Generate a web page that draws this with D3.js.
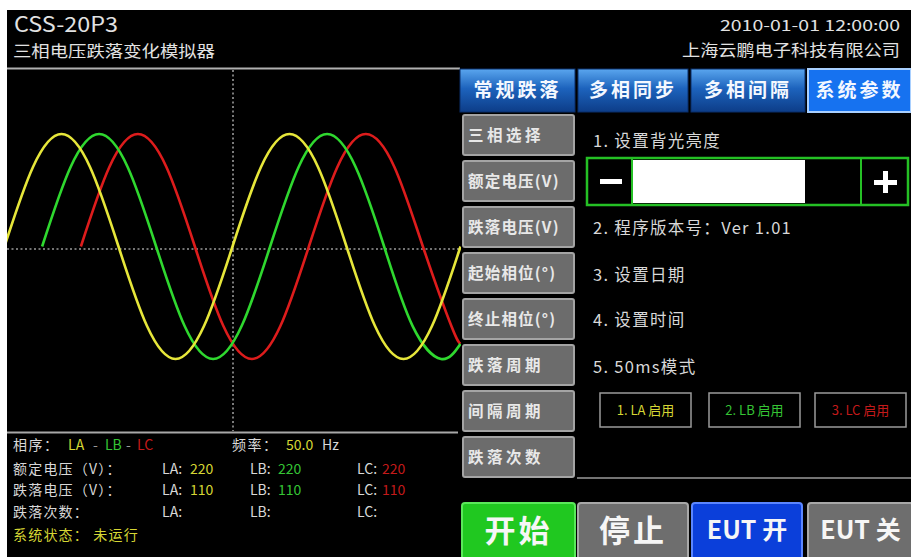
<!DOCTYPE html>
<html><head><meta charset="utf-8">
<script src="https://cdn.jsdelivr.net/npm/d3@7"></script>
<style>
html,body{margin:0;padding:0;background:#fff;}
svg{display:block;}
text{font-family:"Noto Sans CJK SC","Noto Sans",sans-serif;}
</style></head>
<body>
<svg id="c" width="911" height="557"></svg>
<script>
// ---------- data ----------
// waveform samples: time (ms) and voltage (V)
const tLA = [0,2.5,5,7.5,10,12.5,15,17.5,20,22.5,25,27.5,30,32.5,35,37.5,40];
const vLA = [0,220,311,220,0,-220,-311,-220,0,220,311,220,0,-220,-311,-220,0];
const tLB = [3.3,5.8,8.3,10.8,13.3,15.8,18.3,20.8,23.3,25.8,28.3,30.8,33.3,35.8,38.3,40];
const vLB = [0,220,311,220,0,-220,-311,-220,0,220,311,220,0,-220,-311,-269];
const tLC = [6.7,9.2,11.7,14.2,16.7,19.2,21.7,24.2,26.7,29.2,31.7,34.2,36.7,39.2,40];
const vLC = [0,220,311,220,0,-220,-311,-220,0,220,311,220,0,-220,-269];

const title = "CSS-20P3";
const subtitle = "三相电压跌落变化模拟器";
const dateText = "2010-01-01 12:00:00";
const company = "上海云鹏电子科技有限公司";
const tabs = ["常规跌落","多相同步","多相间隔","系统参数"];
const sideButtons = ["三相选择","额定电压(V)","跌落电压(V)","起始相位(°)","终止相位(°)","跌落周期","间隔周期","跌落次数"];
const settings = ["1. 设置背光亮度","2. 程序版本号：Ver 1.01","3. 设置日期","4. 设置时间","5. 50ms模式"];
const enables = ["1. LA 启用","2. LB 启用","3. LC 启用"];
const bottomButtons = ["开始","停止","EUT 开","EUT 关"];
const phases = ["LA","LB","LC"];
const ratedV = [220,220,220];
const dropV = [110,110,110];
const freq = "50.0";
const rowLabels = ["额定电压（V）：","跌落电压（V）：","跌落次数："];
const statusText = "系统状态： 未运行";

// ---------- styles ----------
const phaseColor = ["#e6e63a","#2fd82f","#dd1c1c"];
const textPhase = ["#d6d634","#35c435","#c41a1a"];
const txt = "#d8d8d8";

const svg = d3.select("#c");
svg.append("rect").attr("x",7).attr("y",10).attr("width",904).attr("height",547).attr("fill","#000");

// header
svg.append("text").attr("x",14).attr("y",32).attr("font-size",21).attr("fill","#e2e2e2")
  .attr("textLength",104).attr("lengthAdjust","spacingAndGlyphs").attr("font-family","'Open Sans',sans-serif").text(title);
svg.append("text").attr("x",13).attr("y",57).attr("font-size",16).attr("fill","#e2e2e2")
  .attr("textLength",202).attr("lengthAdjust","spacingAndGlyphs").text(subtitle);
svg.append("text").attr("x",900).attr("y",31).attr("font-size",15).attr("fill","#e2e2e2").attr("text-anchor","end")
  .attr("textLength",180).attr("lengthAdjust","spacingAndGlyphs").attr("font-family","'Liberation Sans',sans-serif").text(dateText);
svg.append("text").attr("x",900).attr("y",56).attr("font-size",16).attr("fill","#e2e2e2").attr("text-anchor","end")
  .attr("textLength",218).attr("lengthAdjust","spacingAndGlyphs").text(company);

svg.append("line").attr("x1",7).attr("x2",460).attr("y1",68.5).attr("y2",68.5).attr("stroke","#b0b0b0").attr("stroke-width",2);

// ---------- waveform ----------
const plot = {l:7, r:461, t:70, b:431};
const x = d3.scaleLinear().domain([0,40]).range([4.5,460.5]);
const y = d3.scaleLinear().domain([-311,311]).range([359,134]);
svg.append("clipPath").attr("id","clip").append("rect")
  .attr("x",plot.l).attr("y",plot.t).attr("width",plot.r-plot.l).attr("height",plot.b-plot.t);

const g = svg.append("g").attr("clip-path","url(#clip)");
g.append("line").attr("x1",233).attr("x2",233).attr("y1",plot.t).attr("y2",plot.b+4)
  .attr("stroke","#9a9a9a").attr("stroke-width",1.6).attr("stroke-dasharray","2,2.5");
g.append("line").attr("x1",plot.l).attr("x2",plot.r).attr("y1",y(0)+2.5).attr("y2",y(0)+2.5)
  .attr("stroke","#9a9a9a").attr("stroke-width",1.6).attr("stroke-dasharray","2,2.5");

const line = d3.line().x(d=>x(d[0])).y(d=>y(d[1])).curve(d3.curveNatural);
const waves = [d3.zip(tLA,vLA), d3.zip(tLB,vLB), d3.zip(tLC,vLC)];
[2,1,0].forEach(i=>{
  g.append("path").datum(waves[i]).attr("d",line).attr("fill","none")
   .attr("stroke",phaseColor[i]).attr("stroke-width",2.6).attr("stroke-linejoin","round");
});

svg.append("line").attr("x1",7).attr("x2",458).attr("y1",432.5).attr("y2",432.5).attr("stroke","#a8a8a8").attr("stroke-width",2);

// ---------- info panel ----------
const info = svg.append("g").attr("font-size",14).attr("fill",txt);
info.append("text").attr("x",13).attr("y",450).attr("letter-spacing",1.5).text("相序：");
const phX = [68,105,137];
phases.forEach((p,i)=>{
  info.append("text").attr("x",phX[i]).attr("y",450).attr("fill",textPhase[i]).text(p);
});
[93,126].forEach(v=>info.append("text").attr("x",v).attr("y",450).attr("fill","#999").text("-"));
info.append("text").attr("x",232).attr("y",450).attr("letter-spacing",1.5).text("频率：");
info.append("text").attr("x",286).attr("y",450).attr("fill",textPhase[0]).text(freq);
info.append("text").attr("x",322).attr("y",450).text("Hz");

const colX = [162,250,357];
const valX = [190,278,382];
const rowVals = [ratedV, dropV, [null,null,null]];
const rowY = [474,495,517];
rowLabels.forEach((lab,ri)=>{
  info.append("text").attr("x",13).attr("y",rowY[ri]).attr("letter-spacing",1.2).text(lab);
  phases.forEach((p,i)=>{
    info.append("text").attr("x",colX[i]).attr("y",rowY[ri]).text(p+":");
    if(rowVals[ri][i]!==null)
      info.append("text").attr("x",valX[i]).attr("y",rowY[ri]).attr("fill",textPhase[i]).text(rowVals[ri][i]);
  });
});
info.append("text").attr("x",13).attr("y",540).attr("fill",textPhase[0]).attr("letter-spacing",1.2).text(statusText);

// ---------- tabs ----------
const defs = svg.append("defs");
const tg = defs.append("linearGradient").attr("id","tabg").attr("x1",0).attr("x2",0).attr("y1",0).attr("y2",1);
tg.append("stop").attr("offset",0).attr("stop-color","#5aa6ee");
tg.append("stop").attr("offset",0.45).attr("stop-color","#1d63bd");
tg.append("stop").attr("offset",1).attr("stop-color","#0d3d88");
const tabX = [[460,575],[578,688],[691,805],[808,911]];
tabs.forEach((t,i)=>{
  const [a,b] = tabX[i];
  svg.append("rect").attr("x",a).attr("y",69).attr("width",b-a).attr("height",43)
    .attr("fill", i===3 ? "#1672f0" : "url(#tabg)")
    .attr("stroke", i===3 ? "#a9d0ff" : "#0a2f6a").attr("stroke-width",i===3?2:1);
  svg.append("text").attr("x",(a+b)/2).attr("y",97).attr("text-anchor","middle")
    .attr("font-size",19).attr("font-weight","bold").attr("fill","#f4f8ff")
    .attr("letter-spacing",3).text(t);
});

// ---------- side buttons ----------
sideButtons.forEach((t,i)=>{
  const y0 = 115 + i*46;
  svg.append("rect").attr("x",463).attr("y",y0).attr("width",111).attr("height",40).attr("rx",2)
    .attr("fill","#6c6c6c").attr("stroke","#a4a4a4").attr("stroke-width",2);
  svg.append("text").attr("x",468).attr("y",y0+26).attr("font-size",15.5).attr("font-weight","bold")
    .attr("fill","#e8e8e8").attr("letter-spacing",t.length>4?1.2:3.5).text(t);
});

// ---------- settings content ----------
const setY = [147,234,281,326,373];
settings.forEach((t,i)=>{
  svg.append("text").attr("x",593).attr("y",setY[i]).attr("font-size",16.5).attr("fill",txt)
    .attr("letter-spacing",1.3).text(t);
});
// brightness slider
svg.append("rect").attr("x",587).attr("y",158).attr("width",321).attr("height",47)
  .attr("fill","#000").attr("stroke","#25c025").attr("stroke-width",2.5);
svg.append("rect").attr("x",633).attr("y",160).attr("width",172).attr("height",43).attr("fill","#fff");
[632,861].forEach(v=>svg.append("line").attr("x1",v).attr("x2",v).attr("y1",158).attr("y2",205)
  .attr("stroke","#25c025").attr("stroke-width",2));
svg.append("rect").attr("x",600).attr("y",179).attr("width",22).attr("height",5).attr("fill","#fff");
svg.append("rect").attr("x",874).attr("y",180).attr("width",23).attr("height",5).attr("fill","#fff");
svg.append("rect").attr("x",883).attr("y",171).attr("width",5).attr("height",22).attr("fill","#fff");

// enable boxes
const enX = [600,709,815];
enables.forEach((t,i)=>{
  svg.append("rect").attr("x",enX[i]).attr("y",393).attr("width",91).attr("height",34)
    .attr("fill","#000").attr("stroke","#9a9a9a").attr("stroke-width",1.5);
  svg.append("text").attr("x",enX[i]+45.5).attr("y",415).attr("text-anchor","middle")
    .attr("font-size",13).attr("fill",textPhase[i]).text(t);
});

svg.append("line").attr("x1",577).attr("x2",911).attr("y1",478).attr("y2",478).attr("stroke","#9a9a9a").attr("stroke-width",1.5);

// ---------- bottom buttons ----------
const bX = [[462,575],[578,688],[692,802],[808,913]];
const bFill = ["#20c820","#6e6e6e","#0b3fda","#6e6e6e"];
const bStroke = ["#5ae85a","#a8a8a8","#5b86ff","#a8a8a8"];
bottomButtons.forEach((t,i)=>{
  const [a,b] = bX[i];
  svg.append("rect").attr("x",a).attr("y",503).attr("width",b-a).attr("height",58).attr("rx",3)
    .attr("fill",bFill[i]).attr("stroke",bStroke[i]).attr("stroke-width",2);
  svg.append("text").attr("x",(a+b)/2).attr("y",i<2?542:539).attr("text-anchor","middle")
    .attr("font-size",i<2?31:25).attr("font-weight","bold").attr("fill","#f6f6f6")
    .attr("letter-spacing",i<2?3:0).text(t);
});
</script>
</body></html>
